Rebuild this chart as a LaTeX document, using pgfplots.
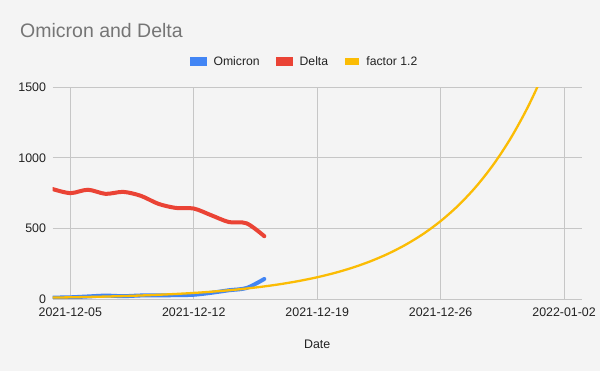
\documentclass[border=0pt]{standalone}
\usepackage{pgfplots}
\pgfplotsset{compat=1.18}
\usepackage{fontspec}
\setmainfont{Liberation Sans}
\definecolor{bgc}{HTML}{F4F4F4}
\definecolor{gridc}{HTML}{C6C6C6}
\definecolor{omic}{HTML}{4285F4}
\definecolor{delt}{HTML}{EA4335}
\definecolor{fact}{HTML}{FBBC04}
\definecolor{titc}{HTML}{757575}
\definecolor{txtc}{HTML}{222222}
\begin{document}
\begin{tikzpicture}
\fill[bgc] (0,0) rectangle (600bp,371bp);
\useasboundingbox (0,0) rectangle (600bp,371bp);
\node[anchor=base west, inner sep=0pt, text=titc, font=\fontsize{19.5bp}{22bp}\selectfont] at (20bp,333.7bp) {Omicron and Delta};
\begin{axis}[
  at={(52.7bp,72bp)}, anchor=south west,
  scale only axis, width=529bp, height=211.7bp,
  xmin=0, xmax=30, ymin=0, ymax=1500,
  axis line style={draw=none},
  axis background/.style={fill=bgc},
  xtick={1,8,15,22,29},
  xticklabels={2021-12-05,2021-12-12,2021-12-19,2021-12-26,2022-01-02},
  ytick={0,500,1000,1500},
  major tick length=0pt,
  grid=major,
  major grid style={draw=gridc, line width=0.9bp},
  /pgf/number format/assume math mode=true,
  /pgf/number format/set thousands separator={},
  tick label style={font=\fontsize{12.4bp}{14bp}\selectfont, text=txtc},
  xticklabel style={inner sep=0pt, anchor=north, yshift=-8.3bp},
  yticklabel style={inner sep=0pt, anchor=east, xshift=-6.5bp},
  xlabel={Date},
  xlabel style={at={(axis description cs:0.5,0)}, anchor=center, yshift=-45.3bp, font=\fontsize{12.4bp}{14bp}\selectfont, text=txtc, inner sep=0pt},
  legend columns=3,
  legend style={at={(axis description cs:0.4745,1)}, anchor=center, yshift=25.6bp, draw=none, fill=none,
    font=\fontsize{12.2bp}{14bp}\selectfont, text=txtc, inner sep=0pt,
    nodes={inner sep=0pt},
    /tikz/every odd column/.append style={column sep=7bp},
    /tikz/every even column/.append style={column sep=16.5bp}},
  legend image code/.code={\fill[#1] (0bp,-2.4bp) rectangle (12.5bp,2.4bp);},
  clip=true,
]
\draw[draw=black!80, line width=1bp] (axis cs:0,0) -- (axis cs:30,0);
\addplot[omic, line width=4bp, smooth, tension=0.5, line cap=round] table {
x y
0 10
1 12
2 18
3 24
4 20
5 25
6 26
7 27
8 30
9 44
10 62
11 78
12 142
};
\addlegendentry{Omicron}
\addplot[delt, line width=4bp, smooth, tension=0.5, line cap=round] table {
x y
0 779
1 750
2 774
3 745
4 759
5 731
6 674
7 645
8 641
9 593
10 545
11 536
12 445
};
\addlegendentry{Delta}
\addplot[fact, line width=2.3bp, smooth] table {
x y
0 10.00
1 12.00
2 14.40
3 17.28
4 20.74
5 24.88
6 29.86
7 35.83
8 43.00
9 51.60
10 61.92
11 74.30
12 89.16
13 106.99
14 128.39
15 154.07
16 184.88
17 221.86
18 266.23
19 319.48
20 383.38
21 460.05
22 552.06
23 662.47
24 794.97
25 953.96
26 1144.75
27 1373.71
28 1648.45
29 1978.14
};
\addlegendentry{factor 1.2}
\end{axis}
\end{tikzpicture}
\end{document}
